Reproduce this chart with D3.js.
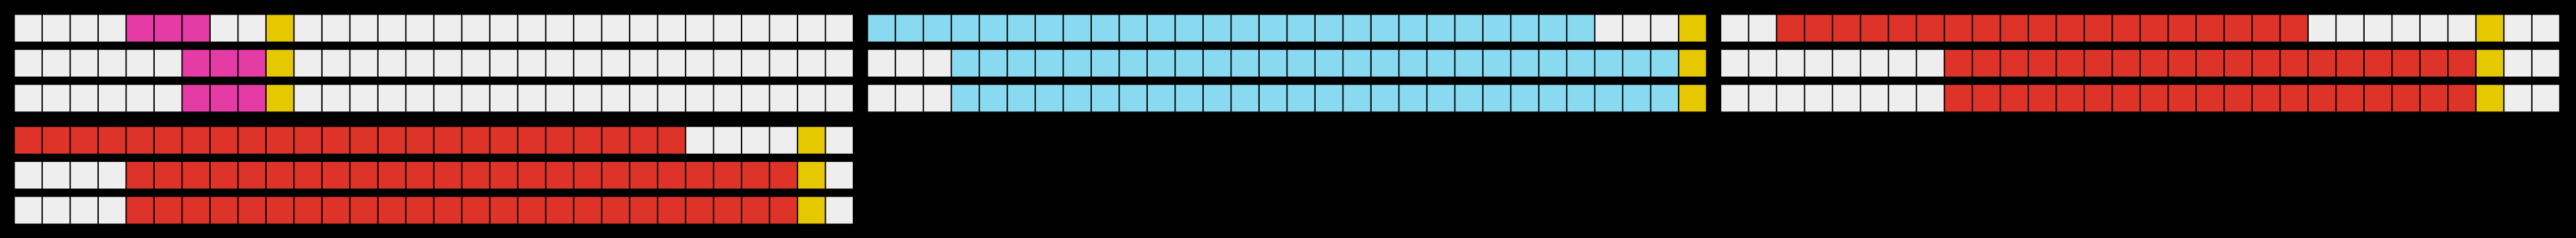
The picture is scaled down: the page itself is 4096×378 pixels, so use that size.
<!DOCTYPE html>
<html>
<head>
<meta charset="utf-8">
<script src="https://cdn.jsdelivr.net/npm/d3@7"></script>
<style>
  html, body { margin: 0; padding: 0; background: #000; overflow: hidden; }
  svg { display: block; }
</style>
</head>
<body>
<script>
// ---- data ----
const panels = ["A", "B", "C", "D"];
const panelColors = ["#e53ba4", "#89d9f1", "#de3329", "#de3329"];
const rowLabels = ["r1", "r2", "r3"];
const columns = d3.range(30);
// filled span per panel per row (inclusive start / end column)
const spanStart = [[4, 6, 6], [0, 3, 3], [2, 8, 8], [0, 4, 4]];
const spanEnd   = [[6, 8, 8], [25, 28, 28], [20, 26, 26], [23, 27, 27]];
const markerCol = [9, 29, 27, 28];
const emptyColor = "#eeeeee";
const markerColor = "#e6c800";

// ---- layout (reference units, scaled by 0.695) ----
const W = 5888, H = 544, S = 0.695;
const svg = d3.select("body").append("svg")
  .attr("width", 4096).attr("height", 378);
svg.append("rect").attr("width", 4096).attr("height", 378).attr("fill", "#000");
const root = svg.append("g").attr("transform", `scale(${S})`);

const facetX = d3.scaleBand().domain([0, 1, 2]).range([34, 5855]).paddingInner(35 / 1952);
const facetY = d3.scaleBand().domain([0, 1]).range([34, 511]).paddingInner(35 / 256);
const x = d3.scaleBand().domain(columns).range([0, facetX.bandwidth()]).paddingInner(3 / 64);
const y = d3.scaleBand().domain(rowLabels).range([0, facetY.bandwidth()]).paddingInner(19 / 80);

panels.forEach((p, pi) => {
  const g = root.append("g")
    .attr("transform", `translate(${facetX(pi % 3)},${facetY(Math.floor(pi / 3))})`);
  const cells = [];
  rowLabels.forEach((r, ri) => {
    columns.forEach(c => {
      let fill = emptyColor;
      if (c === markerCol[pi]) fill = markerColor;
      else if (c >= spanStart[pi][ri] && c <= spanEnd[pi][ri]) fill = panelColors[pi];
      cells.push({ r, c, fill });
    });
  });
  g.selectAll("rect").data(cells).join("rect")
    .attr("x", d => x(d.c))
    .attr("y", d => y(d.r))
    .attr("width", x.bandwidth())
    .attr("height", y.bandwidth())
    .attr("fill", d => d.fill);
});
</script>
</body>
</html>
